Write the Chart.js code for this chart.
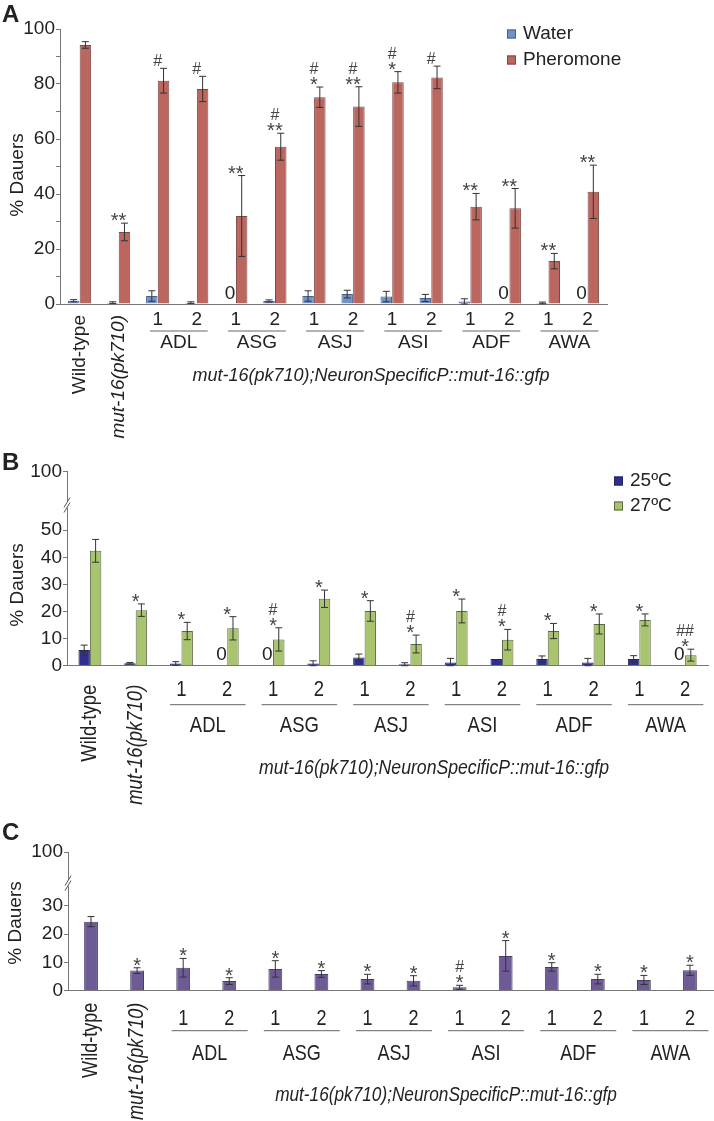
<!DOCTYPE html>
<html>
<head>
<meta charset="utf-8">
<script src="https://cdn.jsdelivr.net/npm/chart.js@4/dist/chart.umd.min.js"></script>
<style>
  body { margin: 0; background: #fff; width: 714px; height: 1121px; position: relative; overflow: hidden; }
  canvas { position: absolute; left: 0; }
</style>
</head>
<body>
<canvas id="chartA" width="714" height="440" style="top:0"></canvas>
<canvas id="chartB" width="714" height="370" style="top:440px"></canvas>
<canvas id="chartC" width="714" height="311" style="top:810px"></canvas>
<script>
// categories
const categories = ['Wild-type', 'mut-16(pk710)', 'ADL 1', 'ADL 2', 'ASG 1', 'ASG 2', 'ASJ 1', 'ASJ 2',
                    'ASI 1', 'ASI 2', 'ADF 1', 'ADF 2', 'AWA 1', 'AWA 2'];
const neurons = ['ADL', 'ASG', 'ASJ', 'ASI', 'ADF', 'AWA'];
const lineNumbers = ['1', '2'];
const caption = 'mut-16(pk710);NeuronSpecificP::mut-16::gfp';

// panel A
const water = [1.2, 0.5, 2.9, 0.5, 0, 1.1, 2.9, 3.6, 2.7, 2.2, 0.9, 0, 0.4, 0];
const waterErr = [0.4, 0.3, 1.9, 0.3, 0, 0.4, 1.9, 1.4, 1.9, 1.3, 1.0, 0, 0.3, 0];
const pheromone = [94.2, 26.2, 81.2, 78.2, 32.0, 57.2, 75.2, 71.8, 80.6, 82.4, 35.4, 34.8, 15.6, 40.8];
const pheromoneErr = [1.2, 3.2, 4.5, 4.6, 14.7, 4.9, 3.7, 7.2, 3.9, 4.1, 4.8, 7.2, 2.8, 9.7];
const marksA = [[], ['**'], ['#'], ['#'], ['**'], ['#', '**'], ['#', '*'], ['#', '**'],
                ['#', '*'], ['#'], ['**'], ['**'], ['**'], ['**']];
const ticksA = [0, 20, 40, 60, 80, 100];

// panel B
const temp25 = [5.8, 0.9, 0.8, 0, 0, 0.8, 3.0, 0.5, 1.2, 2.5, 2.5, 1.2, 2.5, 0];
const temp25Err = [1.8, 0.3, 0.7, 0, 0, 1.0, 1.3, 0.6, 1.5, 0, 1.1, 1.5, 1.2, 0];
const temp27 = [42.4, 20.5, 12.8, 13.8, 9.7, 24.7, 20.2, 8.0, 20.2, 9.6, 12.8, 15.4, 16.9, 3.9];
const temp27Err = [4.2, 2.3, 3.2, 4.3, 4.3, 3.2, 3.8, 3.3, 4.4, 3.8, 2.8, 3.7, 2.2, 2.2];
const marksB = [[], ['*'], ['*'], ['*'], ['#', '*'], ['*'], ['*'], ['#', '*'],
                ['*'], ['#', '*'], ['*'], ['*'], ['*'], ['##', '*']];
const ticksB = [0, 10, 20, 30, 40, 50];

// panel C
const dauersC = [24.4, 7.1, 8.1, 3.4, 7.7, 5.9, 4.1, 3.5, 1.2, 12.3, 8.4, 4.1, 3.8, 7.2];
const dauersCErr = [1.8, 1.0, 3.3, 1.2, 2.9, 1.2, 1.7, 1.8, 0.7, 5.4, 1.5, 1.7, 1.6, 1.8];
const marksC = [[], ['*'], ['*'], ['*'], ['*'], ['*'], ['*'], ['*'],
                ['#', '*'], ['*'], ['*'], ['*'], ['*'], ['*']];
const ticksC = [0, 10, 20, 30];

const FONT = '"Liberation Sans", Arial, sans-serif';

// text, squeezed horizontally by sx (panels B and C use a narrow face)
function text(ctx, str, x, y, font, align, baseline, sx, rot) {
    ctx.save();
    ctx.translate(x, y);
    if (rot) ctx.rotate(rot);
    ctx.scale(sx, 1);
    ctx.font = font;
    ctx.textAlign = align;
    ctx.textBaseline = baseline;
    ctx.fillText(str, 0, 0);
    ctx.restore();
}

const figure = {
    id: 'figure',
    afterDraw(chart, args, o) {
        const ctx = chart.ctx;
        const xs = chart.scales.x, ys = chart.scales.y;
        const zero = ys.getPixelForValue(0);
        const sx = o.squeeze, fs = o.labelSize + 'px ' + FONT;
        ctx.save();
        ctx.fillStyle = '#222';

        // error bars and zero labels
        const tops = [];
        chart.data.datasets.forEach((ds, i) => {
            chart.getDatasetMeta(i).data.forEach((bar, j) => {
                const v = ds.data[j], e = ds.errors[j];
                if (v === 0) {
                    text(ctx, '0', bar.x, zero - 1, '19px ' + FONT, 'center', 'bottom', 1);
                    return;
                }
                const top = ys.getPixelForValue(v + e);
                const bot = ys.getPixelForValue(Math.max(v - e, 0));
                if (i === o.markDataset) tops[j] = top;
                if (!e) return;
                ctx.strokeStyle = '#333';
                ctx.lineWidth = 1;
                ctx.beginPath();
                ctx.moveTo(bar.x, top); ctx.lineTo(bar.x, bot);
                ctx.moveTo(bar.x - 3.5, top); ctx.lineTo(bar.x + 3.5, top);
                ctx.moveTo(bar.x - 3.5, bot); ctx.lineTo(bar.x + 3.5, bot);
                ctx.stroke();
            });
        });

        // significance marks
        ctx.fillStyle = '#444';
        o.marks.forEach((lines, j) => {
            let yy = tops[j] - 2;
            for (let k = lines.length - 1; k >= 0; k--) {
                const str = lines[k];
                const font = (str[0] === '#' ? '16px ' : '20px ') + FONT;
                ctx.font = font;
                const m = ctx.measureText(str);
                const h = m.actualBoundingBoxAscent + m.actualBoundingBoxDescent;
                text(ctx, str, xs.getPixelForValue(j), yy - m.actualBoundingBoxDescent,
                     font, 'center', 'alphabetic', 1);
                yy -= h + 3;
            }
        });

        // x axis labels
        ctx.fillStyle = '#222';
        const w = xs.getPixelForValue(1) - xs.getPixelForValue(0);
        text(ctx, categories[0], xs.getPixelForValue(0), zero + o.rotTop, fs,
             'right', 'middle', sx, -Math.PI / 2);
        text(ctx, categories[1], xs.getPixelForValue(1), zero + o.rotTop, 'italic ' + fs,
             'right', 'middle', sx, -Math.PI / 2);
        neurons.forEach((n, g) => {
            const c1 = xs.getPixelForValue(2 + g * 2), c2 = xs.getPixelForValue(3 + g * 2);
            text(ctx, lineNumbers[0], c1, zero + o.numY, fs, 'center', 'middle', sx);
            text(ctx, lineNumbers[1], c2, zero + o.numY, fs, 'center', 'middle', sx);
            const l = c1 - o.lineL * w, r = c2 + o.lineR * w;
            ctx.strokeStyle = '#666';
            ctx.lineWidth = 1;
            ctx.beginPath();
            ctx.moveTo(l, zero + o.lineY); ctx.lineTo(r, zero + o.lineY);
            ctx.stroke();
            text(ctx, n, (l + r) / 2, zero + o.nameY, fs, 'center', 'middle', sx);
        });
        text(ctx, caption, o.captionX, zero + o.captionY, 'italic ' + o.captionSize + 'px ' + FONT,
             'center', 'middle', sx);

        // y title and panel letter
        text(ctx, '% Dauers', o.titleX, o.titleY, '19px ' + FONT, 'center', 'middle', 1, -Math.PI / 2);
        text(ctx, o.letter, 2, o.letterY, 'bold 24px ' + FONT, 'left', 'alphabetic', 1);

        // axis break
        if (o.breakAt !== undefined) {
            const yb = ys.getPixelForValue(o.breakAt), ax = ys.right;
            ctx.fillStyle = '#fff';
            ctx.fillRect(ax - 2, yb - 3, 4, 6);
            ctx.strokeStyle = '#555';
            ctx.lineWidth = 1;
            ctx.beginPath();
            [-2.5, 2.5].forEach(d => {
                ctx.moveTo(ax - 3, yb + d + 5); ctx.lineTo(ax + 3, yb + d - 5);
            });
            ctx.stroke();
        }

        // legend
        if (o.legend) {
            chart.data.datasets.forEach((ds, i) => {
                const ly = o.legend.y + i * o.legend.gap;
                ctx.fillStyle = ds.backgroundColor;
                ctx.fillRect(o.legend.x, ly - 4.5, 9, 9);
                ctx.strokeStyle = ds.borderColor;
                ctx.strokeRect(o.legend.x + 0.5, ly - 4, 8, 8);
                ctx.fillStyle = '#222';
                text(ctx, ds.label, o.legend.x + 16, ly, '19px ' + FONT, 'left', 'middle', 1);
            });
        }
        ctx.restore();
    }
};

function makePanel(id, datasets, p) {
    return new Chart(document.getElementById(id).getContext('2d'), {
        type: 'bar',
        data: { labels: categories, datasets: datasets },
        plugins: [figure],
        options: {
            responsive: false,
            animation: false,
            devicePixelRatio: 1,
            layout: { padding: { top: p.top, right: p.right, left: 0, bottom: 0 } },
            plugins: {
                legend: { display: false },
                tooltip: { enabled: false },
                figure: p.figure
            },
            scales: {
                x: {
                    grid: { display: false },
                    border: { color: '#777' },
                    ticks: { display: false },
                    afterFit: scale => { scale.height = p.xHeight; }
                },
                y: {
                    min: 0,
                    max: p.max,
                    border: { color: '#777' },
                    grid: { drawOnChartArea: false, tickLength: 4, color: '#777' },
                    ticks: {
                        padding: 1,
                        color: '#222',
                        font: { family: FONT, size: 19 },
                        callback: p.tickLabel
                    },
                    afterBuildTicks: scale => { scale.ticks = p.ticks.map(v => ({ value: v })); },
                    afterFit: scale => { scale.width = p.yWidth; }
                }
            }
        }
    });
}

makePanel('chartA', [
    { label: 'Water', data: water, errors: waterErr, backgroundColor: '#7092c8', borderColor: '#4d5f80',
      borderWidth: 1, categoryPercentage: 0.6, barPercentage: 0.98 },
    { label: 'Pheromone', data: pheromone, errors: pheromoneErr, backgroundColor: '#bb665f', borderColor: '#7b4a46',
      borderWidth: 1, categoryPercentage: 0.6, barPercentage: 0.98 }
], {
    top: 29, right: 107, xHeight: 136, yWidth: 60, max: 100,
    ticks: [0, 10, 20, 30, 40, 50, 60, 70, 80, 90, 100],
    tickLabel: v => ticksA.includes(v) ? v : '',
    figure: {
        squeeze: 1, labelSize: 19, captionSize: 18, markDataset: 1, marks: marksA, letter: 'A', letterY: 22,
        rotTop: 11, numY: 16, lineY: 27, nameY: 39, lineL: 0.2, lineR: 0.28,
        captionX: 371, captionY: 72, titleX: 18, titleY: 175,
        legend: { x: 507, y: 34, gap: 26 }
    }
});

makePanel('chartB', [
    { label: '25ºC', data: temp25, errors: temp25Err, backgroundColor: '#2e2f8f', borderColor: '#23245e',
      borderWidth: 1, categoryPercentage: 0.5, barPercentage: 1 },
    { label: '27ºC', data: temp27, errors: temp27Err, backgroundColor: '#a9c46e', borderColor: '#5d6848',
      borderWidth: 1, categoryPercentage: 0.5, barPercentage: 1 }
], {
    top: 31.7, right: 6, xHeight: 144.3, yWidth: 67, max: 71.6,
    ticks: ticksB.concat([71.6]),
    tickLabel: v => v > 60 ? '100' : v,
    figure: {
        squeeze: 0.84, labelSize: 22, captionSize: 21, markDataset: 1, marks: marksB, letter: 'B', letterY: 30,
        breakAt: 59.3, rotTop: 19, numY: 24, lineY: 39, nameY: 60, lineL: 0.25, lineR: 0.4,
        captionX: 434, captionY: 102, titleX: 18, titleY: 145,
        legend: { x: 614, y: 41, gap: 25 }
    }
});

makePanel('chartC', [
    { label: '', data: dauersC, errors: dauersCErr, backgroundColor: '#6e5b96', borderColor: '#4a3e66',
      borderWidth: 1, categoryPercentage: 0.3, barPercentage: 1 }
], {
    top: 42, right: 1, xHeight: 130.3, yWidth: 68, max: 49,
    ticks: ticksC.concat([49]),
    tickLabel: v => v > 40 ? '100' : v,
    figure: {
        squeeze: 0.82, labelSize: 22, captionSize: 21, markDataset: 0, marks: marksC, letter: 'C', letterY: 30,
        breakAt: 38, rotTop: 12, numY: 28, lineY: 40, nameY: 63, lineL: 0.25, lineR: 0.4,
        captionX: 446, captionY: 104, titleX: 16, titleY: 113,
        legend: null
    }
});
</script>
</body>
</html>
